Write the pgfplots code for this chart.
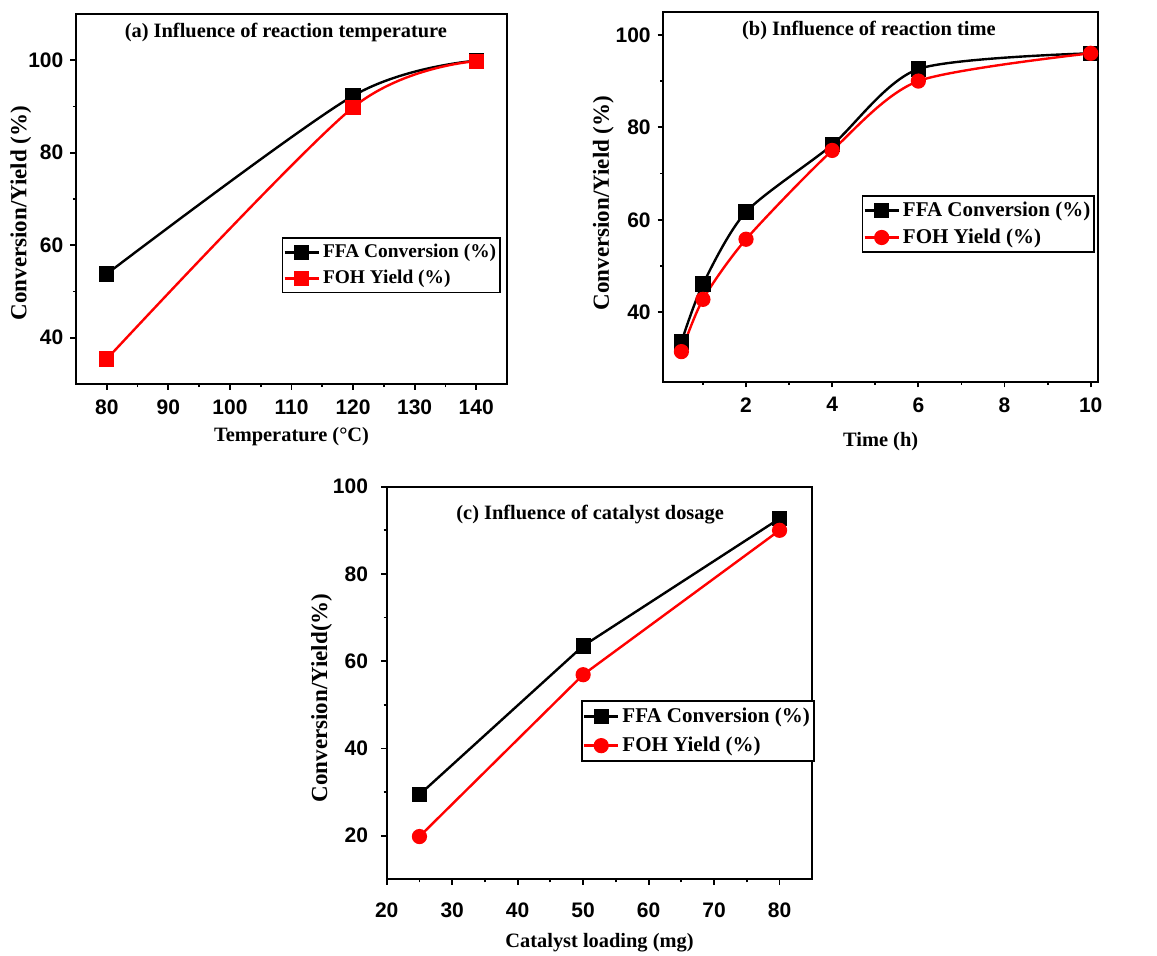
\documentclass[border=0pt]{standalone}
\usepackage{fontspec}
\setmainfont{Liberation Serif}
\newfontfamily\tickfont{Liberation Sans}
\usepackage{pgfplots}
\pgfplotsset{compat=1.18}

\pgfplotsset{
  panel/.style={
    scale only axis,
    axis line style={line width=1pt},
    tick style={line width=0.9pt, black},
    tick align=outside,
    xtick pos=lower, ytick pos=left,
    major tick length=2.8pt, minor tick length=1.6pt,
    ticklabel style={font=\tickfont\bfseries\fontsize{10.5}{12}\selectfont},
    xticklabel style={yshift=-1.5pt},
    /pgf/number format/assume math mode=true,
    xlabel style={font=\bfseries\fontsize{10.2}{12}\selectfont},
    ylabel style={font=\bfseries\fontsize{11.5}{13}\selectfont},
    legend cell align=left,
    legend style={draw=black, line width=0.9pt, fill=white, inner sep=0.5pt,
      anchor=north west, nodes={inner xsep=1.5pt, inner ysep=2.4pt},
      font=\bfseries\fontsize{10}{12}\selectfont},
    every axis plot/.append style={line width=1.2pt, mark size=3.2pt},
  },
  ffa/.style={black, mark=square*, mark options={solid, fill=black}},
  fohsq/.style={red, mark=square*, mark options={solid, fill=red}},
  fohci/.style={red, mark=*, mark options={solid, fill=red}},
}
\tikzset{ttl/.style={font=\bfseries\fontsize{10.2}{12}\selectfont}}

\begin{document}
\begin{tikzpicture}
\useasboundingbox (0,0) rectangle (578.5pt,478pt);

% (a) temperature
\begin{axis}[panel,
    at={(38pt,286pt)}, anchor=south west,
    width=215.5pt, height=185pt,
    xmin=75, xmax=145, ymin=30, ymax=110,
    xtick={80,90,...,140}, ytick={40,60,80,100},
    minor x tick num=1, minor y tick num=1,
    xlabel={Temperature (°C)}, ylabel={Conversion/Yield (\%)},
    xlabel style={at={(axis description cs:0.5,-0.143)}, anchor=center},
    ylabel style={at={(axis description cs:-0.128,0.462)}, anchor=center},
    legend style={at={(axis description cs:0.477,0.396)}, font=\bfseries\fontsize{9.7}{12}\selectfont},
  ]
  \addplot[ffa, smooth] coordinates {(80,53.8) (120,92.3) (140,99.9)};
  \addplot[fohsq, smooth] coordinates {(80,35.4) (120,89.8) (140,99.8)};
  \legend{FFA Conversion (\%), FOH Yield (\%)}
  \node[ttl] at (rel axis cs:0.487,0.949) {(a) Influence of reaction temperature};
\end{axis}

% (b) time
\begin{axis}[panel,
    at={(331.65pt,287.15pt)}, anchor=south west,
    width=217.35pt, height=185pt,
    xmin=0.08, xmax=10.17, ymin=25, ymax=105,
    xtick={2,4,...,10}, minor xtick={1,3,...,9},
    ytick={40,60,80,100}, minor y tick num=1,
    xlabel={Time (h)}, ylabel={Conversion/Yield (\%)},
    xlabel style={at={(axis description cs:0.5,-0.162)}, anchor=center},
    ylabel style={at={(axis description cs:-0.138,0.483)}, anchor=center},
    legend style={at={(axis description cs:0.456,0.505)}, font=\bfseries\fontsize{10.5}{12}\selectfont},
  ]
  \addplot[ffa, smooth, tension=0.45] coordinates {(0.5,33.6) (1,46.1) (2,61.7) (4,76.2) (6,92.6) (10,96.0)};
  \addplot[fohci, smooth, tension=0.45] coordinates {(0.5,31.5) (1,42.8) (2,55.8) (4,75.0) (6,90.0) (10,96.0)};
  \legend{FFA Conversion (\%), FOH Yield (\%)}
  \node[ttl] at (rel axis cs:0.473,0.95) {(b) Influence of reaction time};
\end{axis}

% (c) catalyst dosage
\begin{axis}[panel,
    at={(193.35pt,38.35pt)}, anchor=south west,
    width=212.8pt, height=196.3pt,
    xmin=20, xmax=85, ymin=10, ymax=100,
    xtick={20,30,...,80}, ytick={20,40,...,100},
    minor x tick num=1, minor y tick num=1,
    xticklabel style={yshift=-4pt}, yticklabel style={xshift=-3pt},
    xlabel={Catalyst loading (mg)}, ylabel={Conversion/Yield(\%)},
    xlabel style={at={(axis description cs:0.5,-0.162)}, anchor=center},
    ylabel style={at={(axis description cs:-0.153,0.462)}, anchor=center},
    legend style={at={(axis description cs:0.4566,0.4567)}, font=\bfseries\fontsize{10.5}{12}\selectfont,
      nodes={inner ysep=2.9pt}},
  ]
  \addplot[ffa] coordinates {(25,29.4) (50,63.5) (80,92.7)};
  \addplot[fohci] coordinates {(25,19.8) (50,56.9) (80,90.0)};
  \legend{FFA Conversion (\%), FOH Yield (\%)}
  \node[ttl] at (rel axis cs:0.478,0.928) {(c) Influence of catalyst dosage};
\end{axis}
\end{tikzpicture}
\end{document}
